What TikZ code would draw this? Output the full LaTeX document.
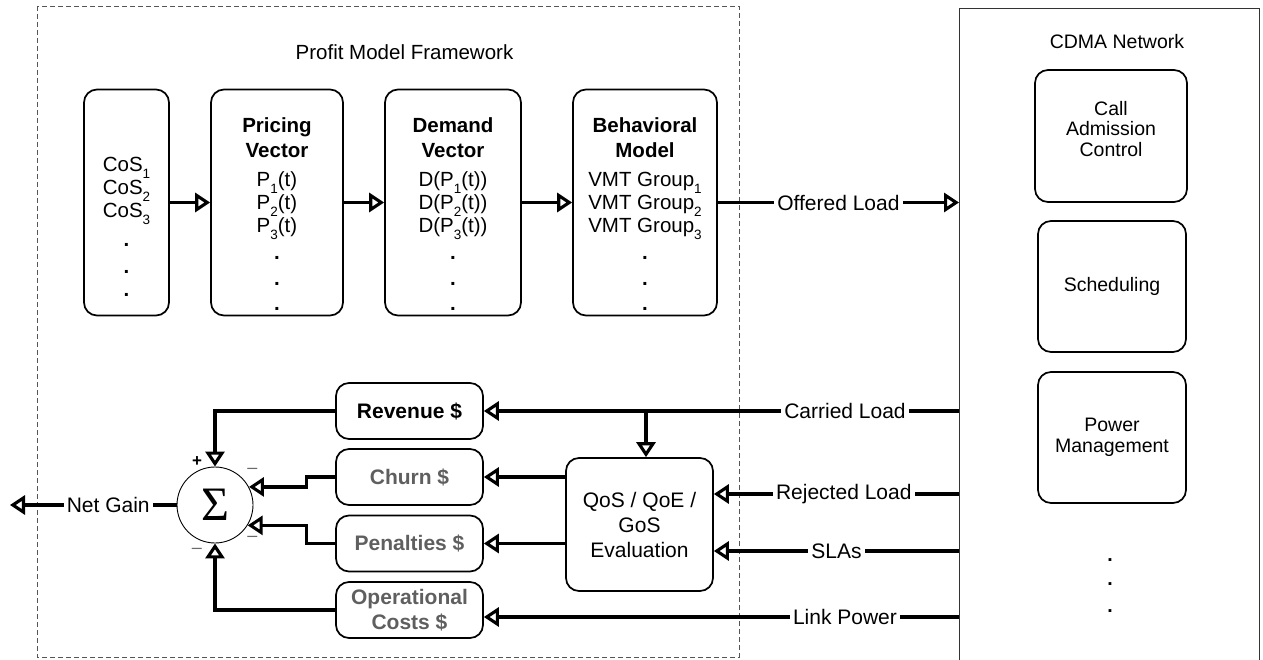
\documentclass[tikz,border=0pt]{standalone}
\usepackage{fontspec}
\setmainfont{Liberation Sans}
\newfontfamily\sigmafont{Liberation Serif}
\usetikzlibrary{arrows.meta}

\definecolor{costgray}{RGB}{95,95,95}
\definecolor{framegray}{RGB}{85,85,85}
\definecolor{signgray}{RGB}{105,105,105}

\newcommand\boxfont{\fontsize{20.5}{24}\selectfont}
\newcommand\lblfont{\fontsize{21}{25}\selectfont}
\newcommand\netfont{\fontsize{19.5}{20.5}\selectfont}
\newcommand\rowdot{\textbf{.}}
\newcommand\subn[1]{\raisebox{-0.3em}{\fontsize{13.5}{13.5}\selectfont #1}}

\begin{document}
\begin{tikzpicture}[x=1pt,y=-1pt,
  blk/.style={draw, line width=1.7pt, rounded corners=13pt, inner sep=0pt},
  topblk/.style={blk, minimum height=226pt},
  netblk/.style={blk, minimum width=148pt, minimum height=131pt, font=\netfont, align=center},
  costblk/.style={blk, minimum width=147pt, minimum height=56pt, font=\bfseries\lblfont, align=center},
  wire/.style={line width=3.1pt},
  conn/.style={wire, -{Triangle[open,length=15pt,width=19pt]}},
  lbl/.style={fill=white, inner xsep=3pt, inner ysep=0pt, font=\lblfont},
  row/.style={anchor=base, font=\boxfont, inner sep=0pt},
  sign/.style={font=\fontsize{18}{18}\selectfont, text=signgray, inner sep=0pt},
]
\useasboundingbox (0,0) rectangle (1263,660);

% profit model frame and network frame
\draw[framegray, line width=0.9pt, dash pattern=on 5pt off 3pt] (37,6) rectangle (739,657);
\node[font=\fontsize{20.5}{24}\selectfont] (pmf) at (404.5,52) {Profit Model Framework};

\node[draw=black!80, line width=1pt, minimum width=300pt, minimum height=700pt,
      inner sep=0pt, anchor=north west] (cdma) at (959,8) {};
\node[font=\netfont] (cdma-t) at (1117,41.5) {CDMA Network};

% network function blocks
\node[netblk, minimum width=152pt, minimum height=132pt] (cac) at (1111,136) {};
\node[font=\netfont, align=center] (cac-t) at (1111,129) {Call\\Admission\\Control};
\node[netblk] (sched) at (1112,286.5) {Scheduling};
\node[netblk] (pwr) at (1112,437.5) {Power\\Management};
\foreach \yy [count=\i] in {561,585,612}
  \node[row, font=\netfont] (net-d\i) at (1110,\yy) {\rowdot};

% upper chain of blocks
\node[topblk, minimum width=85pt]  (cos) at (126.5,202.5) {};
\node[topblk, minimum width=132pt] (pri) at (277,202.5) {};
\node[topblk, minimum width=136pt] (dem) at (453,202.5) {};
\node[topblk, minimum width=144pt] (beh) at (645,202.5) {};

\foreach \txt/\yy [count=\i] in {{CoS\subn{1}}/172, {CoS\subn{2}}/195,
    {CoS\subn{3}}/218, {\rowdot}/247, {\rowdot}/273, {\rowdot}/297}
  \node[row] (cos-r\i) at (126.5,\yy) {\txt};

\foreach \txt/\yy [count=\i] in {{\textbf{Pricing}}/133, {\textbf{Vector}}/158,
    {P\subn{1}(t)}/187, {P\subn{2}(t)}/210, {P\subn{3}(t)}/233,
    {\rowdot}/260, {\rowdot}/285, {\rowdot}/310}
  \node[row] (pri-r\i) at (277,\yy) {\txt};

\foreach \txt/\yy [count=\i] in {{\textbf{Demand}}/133, {\textbf{Vector}}/158,
    {D(P\subn{1}(t))}/187, {D(P\subn{2}(t))}/210, {D(P\subn{3}(t))}/233,
    {\rowdot}/260, {\rowdot}/285, {\rowdot}/310}
  \node[row] (dem-r\i) at (453,\yy) {\txt};

\foreach \txt/\yy [count=\i] in {{\textbf{Behavioral}}/133, {\textbf{Model}}/158,
    {VMT Group\subn{1}}/187, {VMT Group\subn{2}}/210, {VMT Group\subn{3}}/233,
    {\rowdot}/260, {\rowdot}/285, {\rowdot}/310}
  \node[row] (beh-r\i) at (645,\yy) {\txt};

% cost / revenue blocks
\node[costblk] (rev) at (409.5,411) {Revenue \$};
\node[costblk, text=costgray] (churn) at (409.5,477) {Churn \$};
\node[costblk, text=costgray] (pen) at (409.5,543.5) {Penalties \$};
\node[costblk, text=costgray] (opc) at (409.5,610) {Operational\\Costs \$};

\node[blk, minimum width=147pt, minimum height=133pt, font=\lblfont, align=center]
  (qos) at (639.5,524.5) {QoS / QoE /\\GoS\\Evaluation};

% summing junction
\node[draw, circle, line width=0.9pt, minimum size=76pt, inner sep=0pt,
      font=\sigmafont\fontsize{48}{48}\selectfont] (sig) at (215,505) {Σ};
\node[font=\bfseries\fontsize{17}{17}\selectfont, inner sep=0pt] (plus) at (197,461.5) {+};
\node[sign] (m1) at (252.5,471) {\textendash};
\node[sign] (m2) at (252.5,538.5) {\textendash};
\node[sign] (m3) at (197,551) {\textendash};

% connectors
\draw[conn] (cos) -- (pri);
\draw[conn] (pri) -- (dem);
\draw[conn] (dem) -- (beh);
\draw[conn] (beh.east) -- node[lbl]{Offered Load} (cdma.west |- beh.east);

\coordinate (carried) at (cdma.west |- rev.east);
\coordinate (split) at (646,411);
\draw[conn] (carried) -- node[lbl, pos=0.24]{Carried Load} (rev.east);
\draw[conn] (split) -- (split |- qos.north);

\coordinate (rej) at (959,494);
\coordinate (sla) at (959,551);
\coordinate (lnk) at (959,617);
\draw[conn] (rej) -- node[lbl, pos=0.47]{Rejected Load} (qos.east |- rej);
\draw[conn] (sla) -- node[lbl]{SLAs} (qos.east |- sla);
\draw[conn] (lnk) -- node[lbl, pos=0.24]{Link Power} (opc.east |- lnk);

\draw[conn] (qos.west |- churn.east) -- (churn.east);
\draw[conn] (qos.west |- pen.east) -- (pen.east);

\draw[conn] (rev.west) -| (sig.north);
\draw[conn] (churn.west) -- ++(-29,0) |- (sig.28);
\draw[conn] (pen.west) -- ++(-29,0) |- (sig.-32);
\draw[conn] (opc.west) -| (sig.south);

\coordinate (out) at (10,505);
\draw[conn] (sig.west) -- node[lbl, pos=0.41]{Net Gain} (out);
\end{tikzpicture}
\end{document}
